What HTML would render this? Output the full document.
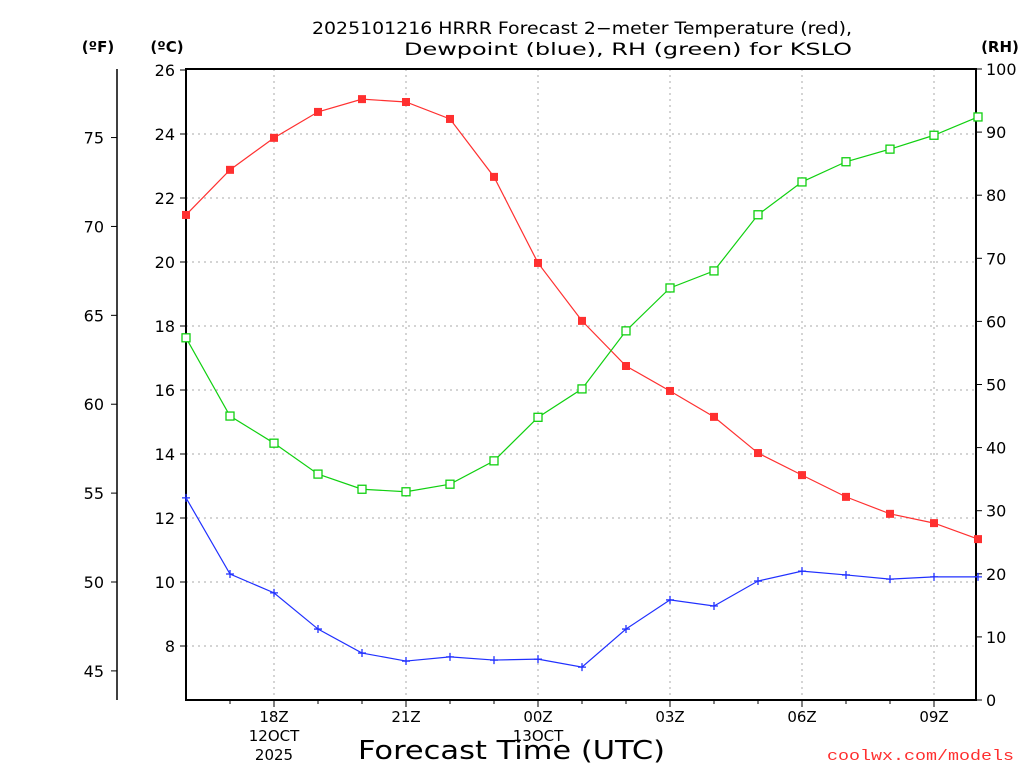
<!DOCTYPE html>
<html><head><meta charset="utf-8">
<style>
html,body{margin:0;padding:0;background:#fff;}
svg{display:block;font-family:"DejaVu Sans","Liberation Sans",sans-serif;}
</style></head>
<body>
<svg id="chart" width="1024" height="768" viewBox="0 0 1024 768">
<text x="312" y="34" font-size="17" textLength="540" lengthAdjust="spacingAndGlyphs">2025101216 HRRR Forecast 2−meter Temperature (red),</text>
<text x="404" y="55" font-size="17" textLength="448" lengthAdjust="spacingAndGlyphs">Dewpoint (blue), RH (green) for KSLO</text>
<text x="98" y="52" text-anchor="middle" font-size="15" font-weight="bold">(ºF)</text>
<text x="167" y="52" text-anchor="middle" font-size="15" font-weight="bold">(ºC)</text>
<text x="1000" y="52" text-anchor="middle" font-size="15" font-weight="bold">(RH)</text>
<text x="358" y="759" font-size="26" textLength="307" lengthAdjust="spacingAndGlyphs">Forecast Time (UTC)</text>
<text x="827" y="760" font-size="15" fill="#ff3030" textLength="187" lengthAdjust="spacingAndGlyphs" font-family="Liberation Mono, monospace">coolwx.com/models</text>
<g id="grid"></g><g id="axes"></g><g id="series"></g>
</svg>
<script>
const hours = [16,17,18,19,20,21,22,23,24,25,26,27,28,29,30,31,32,33,34];
const tempC = [21.47,22.88,23.88,24.69,25.09,25.0,24.47,22.66,19.97,18.16,16.75,15.97,15.16,14.03,13.34,12.66,12.13,11.84,11.34];
const dewC = [12.63,10.25,9.66,8.53,7.78,7.53,7.66,7.56,7.59,7.34,8.53,9.44,9.25,10.03,10.34,10.22,10.09,10.16,10.16];
const rh = [57.4,45.0,40.7,35.8,33.4,33.0,34.2,37.9,44.8,49.3,58.5,65.3,68.0,76.9,82.1,85.3,87.3,89.5,92.4];
const cTicks = [8,10,12,14,16,18,20,22,24,26];
const fTicks = [45,50,55,60,65,70,75];
const rhTicks = [0,10,20,30,40,50,60,70,80,90,100];
const xTickHours = [18,21,24,27,30,33];
const xTickLabels = ["18Z","21Z","00Z","03Z","06Z","09Z"];

const L=186,R=976,T=69,B=700;
const x=h=>L+(h-16)*44;
const yC=c=>70+(26-c)*32;
const yF=f=>yC((f-32)/1.8);
const yR=r=>B-(r/100)*(B-T);
const NS="http://www.w3.org/2000/svg";
function mk(tag,attrs,parent){const e=document.createElementNS(NS,tag);for(const k in attrs)e.setAttribute(k,attrs[k]);parent.appendChild(e);return e;}
const grid=document.getElementById('grid'),axes=document.getElementById('axes'),ser=document.getElementById('series');

cTicks.forEach(c=>{const y=yC(c);
 if(c<26){const g=mk('line',{x1:L,x2:R,y1:y,y2:y,stroke:'#aaa','stroke-dasharray':'2,4'},grid);
 
 }
 mk('line',{x1:L-6,x2:L,y1:y,y2:y,stroke:'#000'},axes);
 const t=mk('text',{x:L-11,y:y+6,'text-anchor':'end','font-size':16},axes);t.textContent=c;
 
 
});
xTickHours.forEach((h,i)=>{const xx=x(h);
 const g=mk('line',{x1:xx,x2:xx,y1:T,y2:B,stroke:'#aaa','stroke-dasharray':'2,4'},grid);
 
 
 mk('line',{x1:xx,x2:xx,y1:B,y2:B+7,stroke:'#000'},axes);
 const t=mk('text',{x:xx,y:722,'text-anchor':'middle','font-size':15},axes);t.textContent=xTickLabels[i];
 
 
});
[[18,"12OCT","2025"],[24,"13OCT",""]].forEach(d=>{
 const t1=mk('text',{x:x(d[0]),y:741,'text-anchor':'middle','font-size':15},axes);t1.textContent=d[1];
 
 
 if(d[2]){const t2=mk('text',{x:x(d[0]),y:760,'text-anchor':'middle','font-size':15},axes);t2.textContent=d[2];
 
 }
});
for(let h=17;h<34;h++){if(!xTickHours.includes(h))mk('line',{x1:x(h),x2:x(h),y1:B,y2:B+4,stroke:'#000'},axes);}
rhTicks.forEach(r=>{const y=yR(r);
 mk('line',{x1:R,x2:R+6,y1:y,y2:y,stroke:'#000'},axes);
 const t=mk('text',{x:R+10,y:y+6,'font-size':16},axes);t.textContent=r;
 
 
});
mk('line',{x1:117,x2:117,y1:T,y2:B,stroke:'#000','stroke-width':1.5},axes);
fTicks.forEach(f=>{const y=yF(f);
 mk('line',{x1:111,x2:117,y1:y,y2:y,stroke:'#000'},axes);
 const t=mk('text',{x:104,y:y+6,'text-anchor':'end','font-size':16},axes);t.textContent=f;
 
 
});
const frame=mk('rect',{x:L,y:T,width:R-L,height:B-T,fill:'none',stroke:'#000','stroke-width':2},axes);



function line(vals,yf,color,name){
 const p=mk('polyline',{points:vals.map((v,i)=>x(hours[i])+','+yf(v)).join(' '),fill:'none',stroke:color,'stroke-width':1.2},ser);
 
 
}
line(tempC,yC,'#ff3030','temperature');
line(dewC,yC,'#2030ff','dewpoint');
line(rh,yR,'#10d010','rh');
tempC.forEach((v,i)=>{const m=mk('rect',{x:x(hours[i])-4,y:yC(v)-4,width:8,height:8,fill:'#ff3030'},ser);
 
 });
dewC.forEach((v,i)=>{const cx=x(hours[i]),cy=yC(v);
 const m=mk('path',{d:`M${cx-4} ${cy}H${cx+4}M${cx} ${cy-4}V${cy+4}`,stroke:'#2030ff','stroke-width':1.3},ser);
 
 });
rh.forEach((v,i)=>{const m=mk('rect',{x:x(hours[i])-4,y:yR(v)-4,width:8,height:8,fill:'#fff',stroke:'#10d010','stroke-width':1.3},ser);
 
 });
</script>
</body></html>
